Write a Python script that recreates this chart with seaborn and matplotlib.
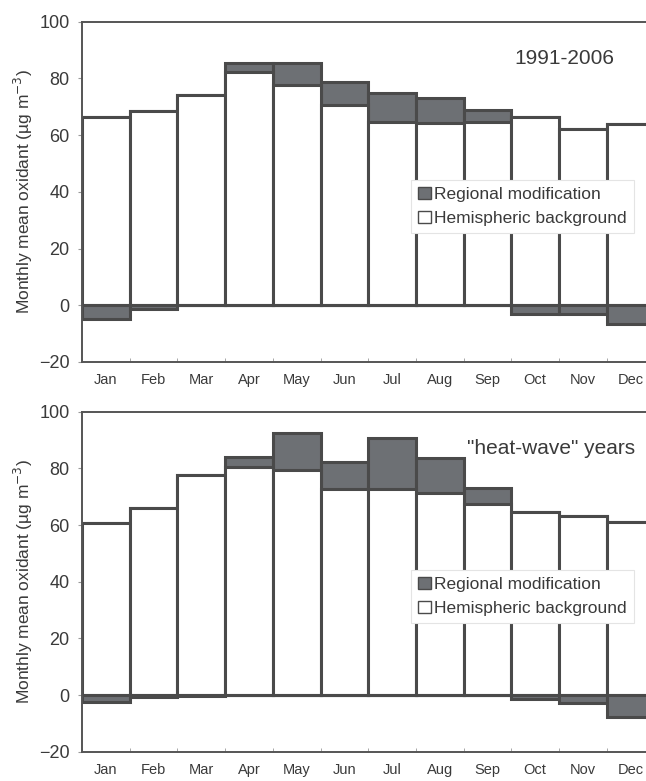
import numpy as np
import pandas as pd
import matplotlib
matplotlib.use('Agg')
import matplotlib.pyplot as plt
from matplotlib.patches import Patch
import seaborn as sns

months = ['Jan', 'Feb', 'Mar', 'Apr', 'May', 'Jun', 'Jul', 'Aug', 'Sep', 'Oct', 'Nov', 'Dec']

# 1991-2006
bg_all = [66.3, 68.5, 74.2, 82.4, 77.7, 70.7, 64.8, 64.2, 64.8, 66.5, 62.1, 63.8]
reg_all = [-4.7, -1.2, 0.0, 3.2, 7.9, 7.9, 10.2, 8.8, 3.9, -2.9, -2.9, -6.5]

# heat-wave years
bg_hw = [60.6, 65.9, 77.6, 80.6, 79.4, 72.9, 72.9, 71.4, 67.6, 64.7, 63.2, 61.2]
reg_hw = [-2.4, -0.8, -0.3, 3.5, 13.0, 9.4, 17.9, 12.4, 5.5, -1.5, -2.9, -7.6]

titles = ['1991-2006', '"heat-wave" years']

sns.set_style('ticks')
plt.rcParams['font.family'] = ['Liberation Sans', 'DejaVu Sans']

gray = '#6d7074'
edge = '#4a4a4a'
txt = '#3a3a3a'

fig = plt.figure(figsize=(6.46, 7.81), dpi=100)
ax1 = fig.add_axes([0.127, 0.5365, 0.886, 0.4357])
ax2 = fig.add_axes([0.127, 0.0375, 0.886, 0.4353])

for ax, bg, reg, title, tx in [(ax1, bg_all, reg_all, titles[0], 0.843),
                               (ax2, bg_hw, reg_hw, titles[1], 0.82)]:
    df = pd.DataFrame({'month': months, 'bg': bg, 'reg': reg})
    df['top'] = df['bg'] + df['reg'].clip(lower=0)
    df['neg'] = df['reg'].clip(upper=0)

    kw = dict(x='month', width=1.0, saturation=1, edgecolor=edge, linewidth=2.2, ax=ax)
    sns.barplot(data=df, y='top', color=gray, **kw)
    sns.barplot(data=df, y='bg', color='white', **kw)
    sns.barplot(data=df, y='neg', color=gray, **kw)

    ax.set_xlim(-0.5, 11.5)
    ax.set_ylim(-20, 100)
    ax.set_yticks([-20, 0, 20, 40, 60, 80, 100])
    ax.set_xticks(np.arange(12))
    ax.set_xticks(np.arange(-0.5, 12, 1), minor=True)
    ax.tick_params(axis='x', which='major', length=0, labelsize=10.5, colors=txt, pad=8)
    ax.tick_params(axis='x', which='minor', length=3, color='#999999', direction='in')
    ax.tick_params(axis='y', length=3, labelsize=13, colors=txt, color='#999999', pad=6)
    ax.set_xlabel('')
    ax.set_ylabel('Monthly mean oxidant (µg m$^{-3}$)', fontsize=12.5, color=txt, labelpad=3)
    for s in ['top', 'bottom', 'left']:
        ax.spines[s].set_color('#555555')
        ax.spines[s].set_linewidth(1.4)
    ax.spines['right'].set_visible(False)

    ax.text(tx, 0.893, title, transform=ax.transAxes, ha='center', va='center',
            fontsize=15, color=txt)

    handles = [Patch(facecolor=gray, edgecolor=edge, label='Regional modification'),
               Patch(facecolor='white', edgecolor=edge, label='Hemispheric background')]
    leg = ax.legend(handles=handles, loc='upper left', bbox_to_anchor=(0.575, 0.535),
                    borderaxespad=0, fontsize=12.5, frameon=True, fancybox=False,
                    handlelength=0.72, handleheight=0.72, handletextpad=0.2,
                    labelspacing=0.5, borderpad=0.4, framealpha=1)
    leg.get_frame().set_edgecolor('#e4e4e4')
    leg.get_frame().set_linewidth(0.8)
    for t in leg.get_texts():
        t.set_color(txt)

fig.savefig('out.png', dpi=100)
